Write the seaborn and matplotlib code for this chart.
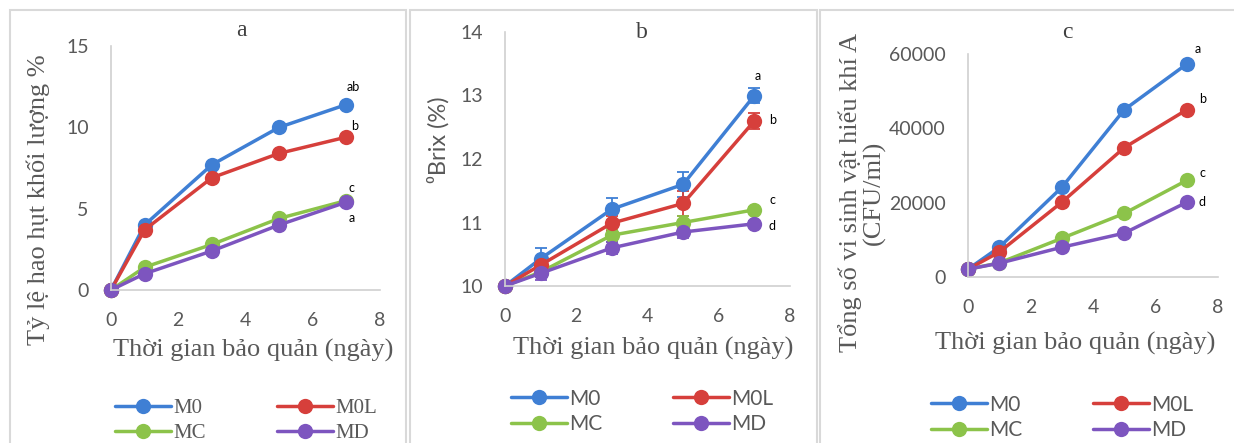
import pandas as pd
import matplotlib.pyplot as plt
import seaborn as sns
from matplotlib.patches import Rectangle

# Data
days = [0, 1, 3, 5, 7]
series = ['M0', 'M0L', 'MC', 'MD']

# a - weight loss (%)
a_M0 = [0, 4.0, 7.7, 10.0, 11.4]
a_M0L = [0, 3.7, 6.9, 8.4, 9.4]
a_MC = [0, 1.4, 2.8, 4.4, 5.5]
a_MD = [0, 1.0, 2.4, 4.0, 5.4]
a_letters = ['ab', 'b', 'c', 'a']

# b - Brix (%) with error bars
b_M0 = [10, 10.43, 11.21, 11.6, 13.0]
b_M0L = [10, 10.33, 10.99, 11.3, 12.6]
b_MC = [10, 10.22, 10.8, 11.0, 11.2]
b_MD = [10, 10.2, 10.6, 10.85, 10.98]
b_M0_err = [0.05, 0.17, 0.17, 0.2, 0.12]
b_M0L_err = [0.05, 0.1, 0.12, 0.2, 0.12]
b_MC_err = [0.05, 0.08, 0.1, 0.1, 0.05]
b_MD_err = [0.05, 0.1, 0.1, 0.1, 0.05]
b_letters = ['a', 'b', 'c', 'd']

# c - total aerobic count (CFU/ml)
c_M0 = [2100, 8000, 24100, 45000, 57300]
c_M0L = [2100, 6700, 20100, 34800, 45000]
c_MC = [2100, 3800, 10400, 17100, 26000]
c_MD = [2100, 3700, 8000, 11800, 20100]
c_letters = ['a', 'b', 'c', 'd']

colors = {'M0': '#3F7FD4', 'M0L': '#D63F3B', 'MC': '#8CC34A', 'MD': '#7D55BF'}
hue_order = ['M0', 'MC', 'M0L', 'MD']  # so the 2-col legend reads M0 M0L / MC MD

sns.set_style('white')
serif = ['Liberation Serif', 'DejaVu Serif']
sans = ['Lato', 'DejaVu Sans']
plt.rcParams['font.family'] = sans
grey = '#595959'

W, H = 1234, 443
fig = plt.figure(figsize=(W / 100, H / 100), dpi=100)


def px_axes(left, top, right, bottom):
    return fig.add_axes([left / W, 1 - bottom / H, (right - left) / W, (bottom - top) / H])


def fx(x):
    return x / W


def fy(y):
    return 1 - y / H


# panel frames
for x0, x1 in [(10, 406), (410, 817), (820, 1240)]:
    fig.add_artist(Rectangle((fx(x0), fy(460)), fx(x1 - x0), (460 - 10) / H,
                             transform=fig.transFigure, fill=False,
                             edgecolor='#d9d9d9', linewidth=1.5))


def make_df(vals):
    rows = []
    for name, v in zip(series, vals):
        for d, y in zip(days, v):
            rows.append({'day': d, 'value': y, 'series': name})
    return pd.DataFrame(rows)


def draw(ax, vals, ylim, yticks, legend_font, legend_center, legend_top):
    df = make_df(vals)
    sns.lineplot(data=df, x='day', y='value', hue='series', hue_order=hue_order,
                 palette=colors, marker='o', markersize=11, markeredgewidth=0,
                 linewidth=2.5, ax=ax, clip_on=False)
    ax.set_xlim(0, 8)
    ax.set_ylim(*ylim)
    ax.set_xticks([0, 2, 4, 6, 8])
    ax.set_yticks(yticks)
    ax.set_xlabel('')
    ax.set_ylabel('')
    for s in ['top', 'right']:
        ax.spines[s].set_visible(False)
    for s in ['left', 'bottom']:
        ax.spines[s].set_color('#d0d0d0')
        ax.spines[s].set_linewidth(1.2)
    ax.tick_params(length=0, pad=16, labelsize=14, labelcolor=grey)
    for lab in ax.get_xticklabels() + ax.get_yticklabels():
        lab.set_family(sans)
    sns.move_legend(ax, 'upper center', bbox_to_anchor=(fx(legend_center), fy(legend_top)),
                    bbox_transform=fig.transFigure, ncol=2, frameon=False, title=None,
                    handlelength=2.7, columnspacing=3.4, labelspacing=0.25,
                    handletextpad=0.1, fontsize=15)
    for t in ax.get_legend().get_texts():
        t.set_color(grey)
        t.set_family(legend_font)


# ---- panel a
ax_a = px_axes(111, 46, 380, 290)
draw(ax_a, [a_M0, a_M0L, a_MC, a_MD], (0, 15), [0, 5, 10, 15], serif, 246, 380)
for s, lx, ly in zip(a_letters, [7.2, 7.25, 7.15, 7.15], [12.5, 10.1, 6.3, 4.4]):
    ax_a.text(lx, ly, s, fontsize=9, color='black', ha='center', va='center')

# ---- panel b
ax_b = px_axes(505, 32, 790, 286)
for name, v, e in zip(series, [b_M0, b_M0L, b_MC, b_MD], [b_M0_err, b_M0L_err, b_MC_err, b_MD_err]):
    ax_b.errorbar(days, v, yerr=e, fmt='none', ecolor=colors[name], elinewidth=1.3,
                  capsize=4, capthick=1.3, clip_on=False)
draw(ax_b, [b_M0, b_M0L, b_MC, b_MD], (10, 14), [10, 11, 12, 13, 14], sans, 642, 370)
for s, lx, ly in zip(b_letters, [7.1, 7.5, 7.5, 7.5], [13.3, 12.62, 11.35, 10.95]):
    ax_b.text(lx, ly, s, fontsize=9, color='black', ha='center', va='center')

# ---- panel c
ax_c = px_axes(968, 54, 1218, 277)
draw(ax_c, [c_M0, c_M0L, c_MC, c_MD], (0, 60000), [0, 20000, 40000, 60000], sans, 1062, 376)
for s, lx, ly in zip(c_letters, [7.35, 7.5, 7.5, 7.5], [61300, 48000, 27900, 20100]):
    ax_c.text(lx, ly, s, fontsize=9, color='black', ha='center', va='center')

# titles and axis labels
xlab = 'Thời gian bảo quản (ngày)'
fig.text(fx(241), fy(30), 'a', family=serif, fontsize=17, color='#404040', ha='center', va='center')
fig.text(fx(642), fy(32), 'b', family=serif, fontsize=17, color='#404040', ha='center', va='center')
fig.text(fx(1067), fy(33), 'c', family=serif, fontsize=17, color='#404040', ha='center', va='center')
for cx, cy in [(253, 350), (653, 348), (1075, 343)]:
    fig.text(fx(cx), fy(cy), xlab, family=serif, fontsize=19, color=grey, ha='center', va='center')

fig.text(fx(38), fy(200), 'Tỷ lệ hao hụt khối lượng %', family=serif, fontsize=19,
         color=grey, rotation=90, ha='center', va='center')
fig.text(fx(438), fy(140), '⁰Brix (%)', family=sans, fontsize=17,
         color=grey, rotation=90, ha='center', va='center')
fig.text(fx(862), fy(193), 'Tổng số vi sinh vật hiếu khí A\n(CFU/ml)', family=serif, fontsize=19,
         color=grey, rotation=90, ha='center', va='center', multialignment='center',
         linespacing=1.05)

fig.savefig('out.png', dpi=100, facecolor='white')
